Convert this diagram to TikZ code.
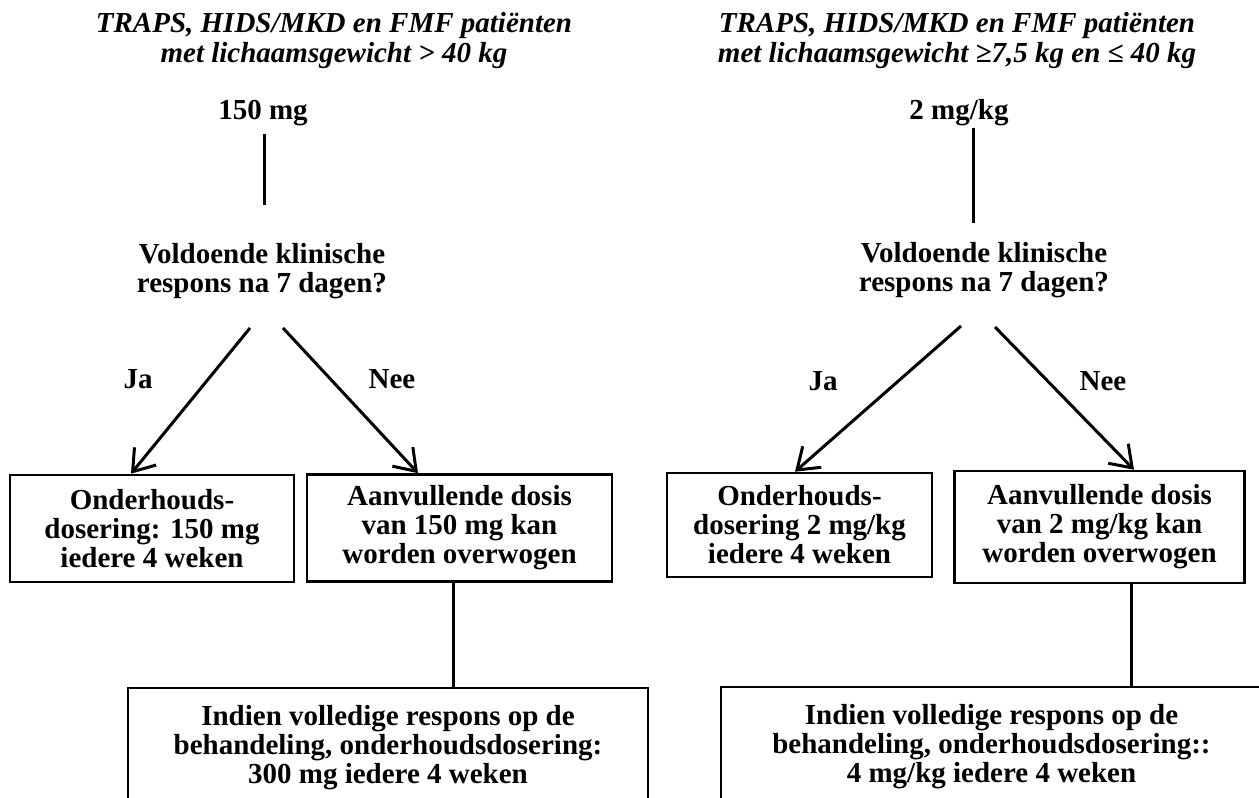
\documentclass[tikz,border=0pt]{standalone}
\usepackage{fontspec}
\setmainfont{Liberation Serif}
\usetikzlibrary{arrows.meta}

\tikzset{
  txt/.style={font=\fontsize{14.5}{14.5}\selectfont\bfseries, align=center, inner sep=0pt},
  hdr/.style={txt, font=\fontsize{14.5}{15}\selectfont\bfseries\itshape},
  box/.style={txt, draw, line width=1.3pt},
  conn/.style={line width=1.5pt},
  arr/.style={conn, -{Straight Barb[length=10pt,width=14pt]}},
}

\begin{document}
\begin{tikzpicture}[x=0.5pt, y=-0.5pt]
\clip (0,0) rectangle (1259,798); % crop as the original

% left: > 40 kg
\node [hdr] (ltitle) at (334,41) {TRAPS, HIDS/MKD en FMF patiënten\\met lichaamsgewicht > 40 kg};
\node [txt] (ldose) at (263,113) {150 mg};
\draw [conn] (ldose.south) ++(0.5pt,-4pt) -- ++(0,71);
\node [txt] (lq) at (262,271) {Voldoende klinische\\respons na 7 dagen?};
\node [box, minimum width=142pt, minimum height=53.5pt] (lja) at (152,528.5)
      {Onderhouds-\\dosering: 150 mg\\iedere 4 weken};
\node [box, minimum width=152.5pt, minimum height=53.5pt] (lnee) at (459.5,528)
      {Aanvullende dosis\\van 150 mg kan\\worden overwogen};
\node [box, minimum width=260pt, minimum height=60pt] (lend) at (388,748)
      {Indien volledige respons op de\\behandeling, onderhoudsdosering:\\300 mg iedere 4 weken};
\coordinate (lq-ja) at (250,328);
\coordinate (lq-nee) at (283,328);
\draw [arr] (lq-ja) -- ([xshift=-10.5pt]lja.north);
\draw [arr] (lq-nee) -- ([xshift=-20.75pt]lnee.north);
\node [txt] (ljalabel) at (138,379) {Ja};
\node [txt] (lneelabel) at (392,379) {Nee};
\draw [conn] ([xshift=-3.25pt]lnee.south) -- ([xshift=-3.25pt]lnee.south |- lend.north);

% right: 7,5 - 40 kg
\node [hdr] (rtitle) at (957,41) {TRAPS, HIDS/MKD en FMF patiënten\\met lichaamsgewicht ≥7,5 kg en ≤ 40 kg};
\node [txt] (rdose) at (959,113) {2 mg/kg};
\draw [conn] (rdose.south) ++(7pt,-0.5pt) -- ++(0,95);
\node [txt] (rq) at (984,270) {Voldoende klinische\\respons na 7 dagen?};
\node [box, minimum width=132.5pt, minimum height=52pt] (rja) at (799.5,525)
      {Onderhouds-\\dosering 2 mg/kg\\iedere 4 weken};
\node [box, minimum width=145pt, minimum height=56pt] (rnee) at (1099.5,527)
      {Aanvullende dosis\\van 2 mg/kg kan\\worden overwogen};
\node [box, minimum width=270.5pt, minimum height=60pt] (rend) at (991.5,747)
      {Indien volledige respons op de\\behandeling, onderhoudsdosering::\\4 mg/kg iedere 4 weken};
\coordinate (rq-ja) at (961,326);
\coordinate (rq-nee) at (995,327);
\draw [arr] (rq-ja) -- ([xshift=-2.25pt]rja.north);
\draw [arr] (rq-nee) -- ([xshift=17.25pt]rnee.north);
\node [txt] (rjalabel) at (823,381) {Ja};
\node [txt] (rneelabel) at (1103,381) {Nee};
\draw [conn] ([xshift=15.75pt]rnee.south) -- ([xshift=15.75pt]rnee.south |- rend.north);
\end{tikzpicture}
\end{document}
